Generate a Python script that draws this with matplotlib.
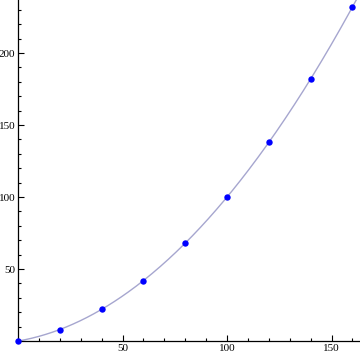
import numpy as np
import matplotlib.pyplot as plt
from matplotlib.ticker import MultipleLocator, FixedLocator

# data
x_vals = [0, 20, 40, 60, 80, 100, 120, 140, 160]
y_vals = [0, 8, 22, 42, 68, 100, 138, 182, 232]

x_major = [50, 100, 150]
y_major = [50, 100, 150, 200]

plt.rcParams["font.family"] = ["Liberation Serif", "DejaVu Serif"]

fig = plt.figure(figsize=(3.6, 3.56), dpi=100)
ax = fig.add_axes([0.05, 0.042, 0.95, 0.958])

# quadratic trend line fitted to the points
coef = np.polyfit(x_vals, y_vals, 2)
xs = np.linspace(0, 164, 300)
ax.plot(xs, np.polyval(coef, xs), color="#a6a6cf", linewidth=1.0, zorder=2)

ax.plot(x_vals, y_vals, "o", color="#0000ff", markersize=4.6,
        markeredgewidth=0, clip_on=False, zorder=3)

ax.set_xlim(0, 163.6)
ax.set_ylim(0, 236.8)

ax.xaxis.set_major_locator(FixedLocator(x_major))
ax.yaxis.set_major_locator(FixedLocator(y_major))
ax.xaxis.set_minor_locator(MultipleLocator(10))
ax.yaxis.set_minor_locator(MultipleLocator(10))

ax.tick_params(which="both", direction="in", top=False, right=False,
               labelsize=8, width=0.8, color="black", pad=2)
ax.tick_params(which="major", length=4)
ax.tick_params(which="minor", length=2.5)

for side in ["top", "right"]:
    ax.spines[side].set_visible(False)
for side in ["left", "bottom"]:
    ax.spines[side].set_linewidth(0.9)

fig.savefig("out.png", dpi=100)
